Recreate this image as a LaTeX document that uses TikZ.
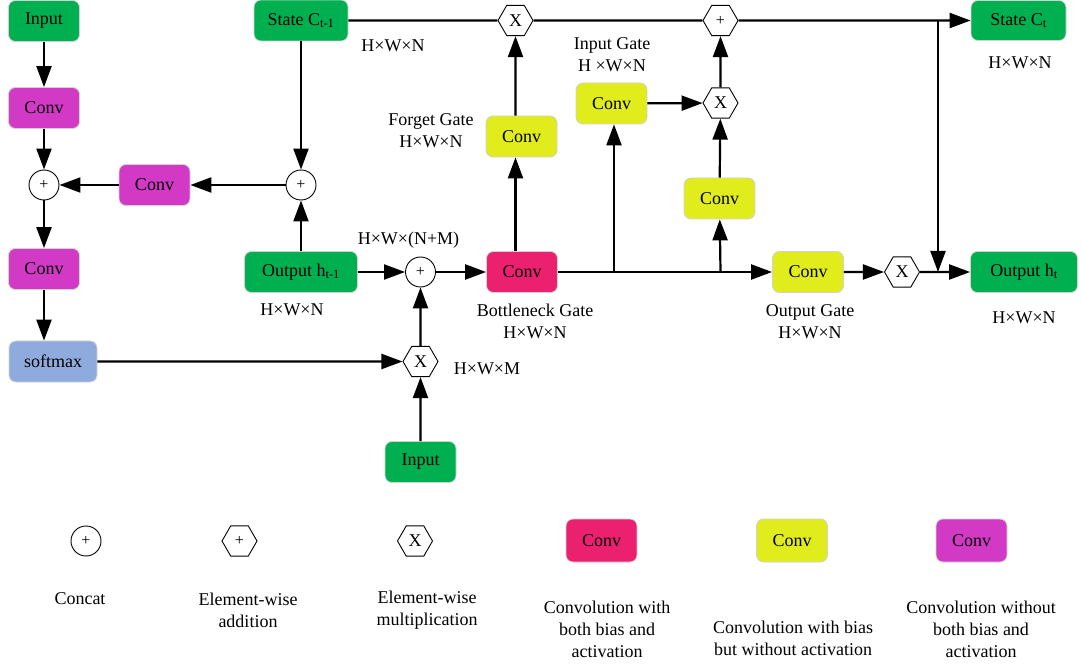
\documentclass[tikz,border=0pt]{standalone}
\usepackage{fontspec}
\setmainfont{Liberation Serif}
\usetikzlibrary{shapes.geometric,arrows.meta}
\definecolor{cgreen}{HTML}{00B050}
\definecolor{cmag}{HTML}{D23AC6}
\definecolor{cpink}{HTML}{EB2170}
\definecolor{cyel}{HTML}{E1EC1D}
\definecolor{cblue}{HTML}{8FAADC}
\begin{document}
\begin{tikzpicture}[x=1pt,y=-1pt,
  font=\fontsize{18pt}{22pt}\selectfont,
  box/.style={rounded corners=7pt, draw=black!18, line width=0.8pt,
    minimum height=41pt, minimum width=71pt, inner sep=0pt, align=center},
  gbox/.style={box, fill=cgreen},
  mbox/.style={box, fill=cmag},
  pbox/.style={box, fill=cpink},
  ybox/.style={box, fill=cyel},
  arr/.style={line width=2.2pt, -{Triangle[length=21pt,width=15pt]}},
  ln/.style={line width=2.2pt},
  cat/.style={circle, draw, line width=0.9pt, minimum size=30pt, inner sep=0pt,
    font=\fontsize{16pt}{16pt}\selectfont},
  hex/.style={regular polygon, regular polygon sides=6, draw, line width=0.9pt,
    minimum size=35pt, inner sep=0pt},
  hexp/.style={hex, font=\fontsize{16pt}{16pt}\selectfont},
  lbl/.style={align=center, inner sep=0pt}
]
\useasboundingbox (0,0) rectangle (1082,668);

% attention branch (left)
\node[gbox] (in1) at (44,21) {Input};
\node[mbox] (cv1) at (44,108) {Conv};
\node[cat] (ccL) at (44,185) {+};
\node[mbox] (cv2) at (154.5,185) {Conv};
\node[cat] (ccR) at (301,185) {+};
\node[gbox, minimum width=94pt] (sc0) at (301,20.5) {State C\textsubscript{t-1}};
\node[mbox] (cv3) at (44,269) {Conv};
\node[box, fill=cblue, minimum width=88pt] (smx) at (53,361.5) {softmax};

% inputs to the bottleneck
\node[gbox, minimum width=113pt] (oh0) at (301,272) {Output h\textsubscript{t-1}};
\node[cat] (ccM) at (420.5,272) {+};
\node[hex] (xM) at (420.5,361.5) {X};
\node[gbox] (in2) at (420.5,462) {Input};

% gates
\node[pbox] (bn) at (522,272) {Conv};
\node[ybox] (fg) at (521.5,136.5) {Conv};
\node[hex] (xT) at (515.5,20.5) {X};
\node[ybox] (ig) at (611.5,103.5) {Conv};
\node[hex] (xR) at (720.5,103) {X};
\node[hexp] (aT) at (720.5,20.5) {+};
\node[ybox] (cg) at (719.5,198.5) {Conv};
\node[ybox] (og) at (808,272) {Conv};
\node[hex] (xO) at (902,272) {X};
\node[gbox, minimum width=107pt] (oht) at (1024,272) {Output h\textsubscript{t}};
\node[gbox, minimum width=95pt, minimum height=40pt] (sct) at (1018.5,20.5) {State C\textsubscript{t}};

% branch points
\coordinate (b1) at (614,272);
\coordinate (b2) at (720.5,272);
\coordinate (jn) at (938,20.5);
\coordinate (jm) at (938,272);

% connectors
\draw[arr] (in1) -- (cv1);
\draw[arr] (cv1) -- (ccL);
\draw[arr] (ccL) -- (cv3);
\draw[arr] (cv3.south) -- (cv3.south |- smx.north);
\draw[arr] (ccR) -- (cv2);
\draw[arr] (cv2) -- (ccL);
\draw[arr] (sc0) -- (ccR);
\draw[arr] (oh0) -- (ccR);
\draw[arr] (oh0) -- (ccM);
\draw[arr] (smx) -- (xM);
\draw[arr] (in2) -- (xM);
\draw[arr] (xM) -- (ccM);
\draw[arr] (ccM) -- (bn);
\draw[arr] (bn.north -| xT) -- (fg.south -| xT);
\draw[arr] (fg.north -| xT) -- (xT);
\draw[ln] (sc0) -- (xT);
\draw[ln] (xT) -- (aT);
\draw[arr] (aT) -- (sct);
\draw[arr] (bn) -- (og);
\draw[arr] (b1) -- (ig.south -| b1);
\draw[arr] (b2) -- (cg);
\draw[arr] (ig) -- (xR);
\draw[arr] (cg) -- (xR);
\draw[arr] (xR) -- (aT);
\draw[arr] (og) -- (xO);
\draw[arr] (xO) -- (oht);
\draw[arr] (jn) -- (jm);

% tensor shapes and gate names
\node[lbl] (d1) at (393,46) {H×W×N};
\node[lbl] (d2) at (431,130.5) {Forget Gate\\H×W×N};
\node[lbl] (d3) at (612,55) {Input Gate\\H ×W×N};
\node[lbl] (d4) at (1020,63) {H×W×N};
\node[lbl] (d5) at (408.5,240) {H×W×(N+M)};
\node[lbl] (d6) at (292,310) {H×W×N};
\node[lbl] (d7) at (535,321) {Bottleneck Gate\\H×W×N};
\node[lbl] (d8) at (487,369) {H×W×M};
\node[lbl] (d9) at (810,322) {Output Gate\\H×W×N};
\node[lbl] (d10) at (1024,318) {H×W×N};

% legend
\node[cat] (lg1) at (86,541) {+};
\node[hexp] (lg2) at (239.5,541) {+};
\node[hex] (lg3) at (415,541) {X};
\node[pbox, minimum height=43pt] (lg4) at (601.5,540.5) {Conv};
\node[ybox, minimum height=43pt] (lg5) at (792,540.5) {Conv};
\node[mbox, minimum height=43pt] (lg6) at (971.5,540.5) {Conv};
\node[lbl] (t1) at (80,599) {Concat};
\node[lbl] (t2) at (248,610) {Element-wise\\addition};
\node[lbl] (t3) at (427,610) {Element-wise\\multiplication};
\node[lbl] (t4) at (607,629) {Convolution with\\both bias and\\activation};
\node[lbl] (t5) at (793,638.5) {Convolution with bias\\but without activation};
\node[lbl] (t6) at (981,629) {Convolution without\\both bias and\\activation};
\end{tikzpicture}
\end{document}
